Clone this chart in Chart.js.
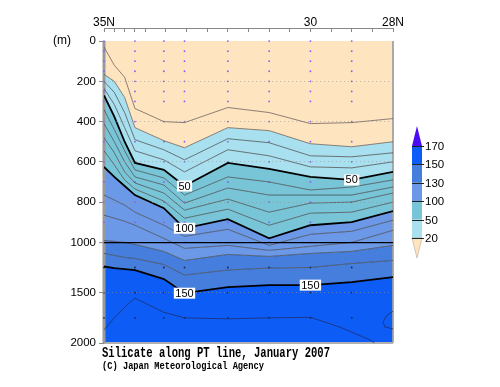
<!DOCTYPE html>
<html>
<head>
<meta charset="utf-8">
<script src="https://cdn.jsdelivr.net/npm/chart.js@4.4.0/dist/chart.umd.min.js"></script>
<style>
  html, body { margin: 0; padding: 0; background: #fff; }
</style>
</head>
<body>
<canvas id="section" width="500" height="387"></canvas>
<script>
// ── Silicate section along the PT line, January 2007 ──
// Contour depths (m), one array per contour level.

const lats = [35.0, 34.75, 34.5, 34.25, 33.55, 33.05, 32.0, 31.0, 30.0, 29.0, 28.0];

const depth10  = [30, 120, 180, 335, 400, 405, 330, 355, 410, 405, 385];
const depth20  = [165, 200, 280, 430, 495, 530, 430, 445, 510, 525, 500];
const depth30  = [200, 255, 355, 490, 540, 590, 485, 505, 570, 575, 555];
const depth40  = [235, 315, 430, 545, 590, 650, 540, 570, 625, 630, 600];
const depth50  = [270, 375, 500, 605, 640, 720, 605, 635, 675, 690, 650];
const depth60  = [340, 440, 545, 640, 680, 765, 675, 700, 740, 725, 690];
const depth70  = [410, 500, 600, 675, 715, 805, 730, 765, 765, 765, 725];
const depth80  = [480, 555, 650, 705, 755, 840, 785, 850, 805, 800, 755];
const depth90  = [545, 615, 690, 735, 795, 880, 835, 915, 855, 850, 800];
const depth100 = [625, 675, 720, 765, 830, 930, 885, 980, 915, 900, 845];
const depth110 = [765, 790, 815, 850, 915, 970, 935, 1030, 960, 945, 890];
const depth120 = [865, 880, 895, 915, 980, 1060, 1030, 1080, 1040, 1000, 940];
const depth130 = [990, 995, 1000, 1020, 1090, 1180, 1120, 1140, 1110, 1090, 1030];
const depth140 = [1110, 1130, 1150, 1160, 1220, 1325, 1275, 1255, 1250, 1210, 1180];
const depth150 = [1240, 1255, 1265, 1275, 1365, 1505, 1445, 1425, 1425, 1395, 1345];

const levels = [10, 20, 30, 40, 50, 60, 70, 80, 90, 100, 110, 120, 130, 140, 150];

// the 160 contour leaves through the bottom, plus a small tongue on the right edge
const line160Lats   = [35.0, 34.75, 34.5, 34.25, 33.55, 33.05, 32.0, 31.0, 30.0, 29.3, 28.55, 28.45];
const line160Depths = [1870, 1750, 1645, 1555, 1695, 1750, 1760, 1750, 1745, 1840, 1970, 2000];
const loop160Lats   = [28.0, 28.15, 28.24, 28.2, 28.0];
const loop160Depths = [1685, 1725, 1790, 1840, 1860];

// observation stations and sampled depths (dots)
const stationLats = [35.0, 34.25, 33.55, 33.05, 32.0, 31.0, 30.0, 29.0];
const obsDepths = [0, 50, 100, 150, 200, 250, 300, 400, 500, 600, 700, 800, 900, 1000, 1250, 1500, 1750];

// colour scale
const bandLevels = [20, 50, 100, 130, 150, 170];
const bandColors = ['#ffe4c0', '#a8e0ef', '#78c5d8', '#6b98e7', '#467edd', '#0d5cf6', '#4a0cf2'];

// contour labels
const labelLats   = [33.05, 29.0, 33.05, 33.05, 30.0];
const labelLevels = [50, 50, 100, 150, 150];

// axes
const xTickValues = [35, 34.75, 34.5, 34.25, 34, 33.5, 33, 32.5, 32, 31.5, 31, 30.5, 30, 29.5, 29, 28.5, 28];
const xTickLabels = ['35N', '', '', '', '', '', '', '', '', '', '', '', '30', '', '', '', '28N'];
const yTickValues = [0, 200, 400, 600, 800, 1000, 1500, 2000];

const BREAK_DEPTH = 1000;   // below this the axis is compressed by half

const contourDepths = [depth10, depth20, depth30, depth40, depth50, depth60, depth70, depth80,
  depth90, depth100, depth110, depth120, depth130, depth140, depth150];

function bandColor(v) {
  const i = bandLevels.findIndex(l => v < l);
  return bandColors[i < 0 ? bandColors.length - 1 : i];
}

// piecewise linear depth axis (0-1000 m full scale, 1000-2000 m half scale)
class DepthScale extends Chart.LinearScale {
  static id = 'depth';
  toUnit(v) { return v <= BREAK_DEPTH ? v : BREAK_DEPTH + (v - BREAK_DEPTH) / 2; }
  fromUnit(u) { return u <= BREAK_DEPTH ? u : BREAK_DEPTH + (u - BREAK_DEPTH) * 2; }
  getPixelForValue(value) {
    const a = this.toUnit(this.min), b = this.toUnit(this.max);
    return this.getPixelForDecimal((this.toUnit(value) - a) / (b - a));
  }
  getValueForPixel(pixel) {
    const a = this.toUnit(this.min), b = this.toUnit(this.max);
    return this.fromUnit(a + this.getDecimalForPixel(pixel) * (b - a));
  }
}
Chart.register(DepthScale);

const datasets = [];
datasets.push({
  data: lats.map(lat => ({ x: lat, y: 0 })),
  borderWidth: 0, pointRadius: 0, fill: false,
});
levels.forEach((lev, k) => {
  const heavy = lev % 50 === 0;
  datasets.push({
    data: lats.map((lat, i) => ({ x: lat, y: contourDepths[k][i] })),
    borderColor: heavy ? '#000' : (lev < 30 ? '#5a5048' : '#404040'),
    borderWidth: heavy ? 1.8 : 0.7,
    backgroundColor: bandColor(lev - 5),
    fill: '-1', pointRadius: 0, tension: 0,
  });
});
datasets.push({
  data: lats.map(lat => ({ x: lat, y: 2000 })),
  borderWidth: 0, pointRadius: 0,
  backgroundColor: bandColor(155), fill: '-1',
});
datasets.push({
  data: line160Lats.map((lat, i) => ({ x: lat, y: line160Depths[i] })),
  borderColor: '#1c2a5a', borderWidth: 0.7, pointRadius: 0, fill: false,
});
datasets.push({
  data: loop160Lats.map((lat, i) => ({ x: lat, y: loop160Depths[i] })),
  borderColor: '#1c2a5a', borderWidth: 0.7, pointRadius: 0, fill: false,
});
// station dots
datasets.push({
  data: stationLats.flatMap(lat => obsDepths.map(d => ({ x: lat, y: d }))),
  showLine: false, pointRadius: 0.9, pointBorderWidth: 0,
  pointBackgroundColor: ctx => (ctx.raw && ctx.raw.y > 1000 ? '#1e2358' : '#8a5cff'),
  clip: false,
});
// frame: left, bottom, right
datasets.push({
  data: [{ x: 35, y: 0 }, { x: 35, y: 2000 }],
  borderColor: '#9a9a9a', borderWidth: 3, pointRadius: 0, fill: false, clip: false,
});
datasets.push({
  data: [{ x: 35, y: 2000 }, { x: 28, y: 2000 }],
  borderColor: '#b0b0b0', borderWidth: 2, pointRadius: 0, fill: false, clip: false,
});
datasets.push({
  data: [{ x: 28, y: 0 }, { x: 28, y: 2000 }],
  borderColor: '#a0a0a0', borderWidth: 1, pointRadius: 0, fill: false, clip: false,
});

function fitText(ctx, text, x, y, font, width) {
  ctx.font = font;
  const w = ctx.measureText(text).width;
  ctx.save();
  ctx.translate(x, y);
  ctx.scale(width / w, 1);
  ctx.fillText(text, 0, 0);
  ctx.restore();
}

const decorations = {
  id: 'decorations',
  afterDraw(chart) {
    const { ctx } = chart;
    const xs = chart.scales.x, ys = chart.scales.y;
    ctx.save();

    // contour labels
    ctx.font = '11px "Liberation Sans", Arial, sans-serif';
    ctx.textAlign = 'center';
    ctx.textBaseline = 'middle';
    labelLats.forEach((lat, i) => {
      const lev = labelLevels[i];
      const d = contourDepths[levels.indexOf(lev)][lats.indexOf(lat)];
      const px = xs.getPixelForValue(lat), py = ys.getPixelForValue(d);
      const txt = String(lev);
      const w = ctx.measureText(txt).width + 3;
      ctx.fillStyle = '#fff';
      ctx.fillRect(px - w / 2, py - 5.5, w, 11);
      ctx.fillStyle = '#000';
      ctx.fillText(txt, px, py + 0.5);
    });

    // unit label
    ctx.font = '12px "Liberation Sans", Arial, sans-serif';
    ctx.fillText('(m)', 62, ys.getPixelForValue(0));

    // colour bar
    const cb = { left: 412, width: 10, top: 146, bottom: 238, tip: 20 };
    const segH = (cb.bottom - cb.top) / (bandLevels.length - 1);
    for (let i = 0; i < bandLevels.length - 1; i++) {
      ctx.fillStyle = bandColors[i + 1];
      ctx.fillRect(cb.left, cb.bottom - (i + 1) * segH, cb.width, segH);
    }
    ctx.fillStyle = bandColors[0];
    ctx.beginPath();
    ctx.moveTo(cb.left, cb.bottom);
    ctx.lineTo(cb.left + cb.width, cb.bottom);
    ctx.lineTo(cb.left + cb.width / 2, cb.bottom + cb.tip);
    ctx.closePath();
    ctx.fill();
    ctx.strokeStyle = '#b8a890';
    ctx.lineWidth = 0.6;
    ctx.stroke();
    ctx.fillStyle = bandColors[bandColors.length - 1];
    ctx.beginPath();
    ctx.moveTo(cb.left, cb.top);
    ctx.lineTo(cb.left + cb.width, cb.top);
    ctx.lineTo(cb.left + cb.width / 2, cb.top - cb.tip);
    ctx.closePath();
    ctx.fill();

    ctx.strokeStyle = '#222';
    ctx.lineWidth = 1;
    ctx.font = '11.5px "Liberation Sans", Arial, sans-serif';
    ctx.textAlign = 'left';
    ctx.fillStyle = '#000';
    bandLevels.forEach((lev, i) => {
      const yy = Math.round(cb.bottom - i * segH) + 0.5;
      ctx.beginPath();
      ctx.moveTo(cb.left, yy);
      ctx.lineTo(cb.left + cb.width + 2, yy);
      ctx.stroke();
      ctx.fillText(String(lev), cb.left + cb.width + 3, yy);
    });

    // caption
    ctx.textAlign = 'left';
    ctx.textBaseline = 'alphabetic';
    ctx.fillStyle = '#000';
    fitText(ctx, 'Silicate along PT line, January 2007', 102, 357,
      'bold 14px "Liberation Mono", "DejaVu Sans Mono", monospace', 228);
    fitText(ctx, '(C) Japan Meteorological Agency', 102, 369,
      'bold 11px "Liberation Mono", "DejaVu Sans Mono", monospace', 162);
    ctx.restore();
  },
};

new Chart(document.getElementById('section'), {
  type: 'line',
  data: { datasets },
  plugins: [decorations],
  options: {
    responsive: false,
    animation: false,
    devicePixelRatio: 1,
    layout: { padding: { left: 0, top: 0, right: 107, bottom: 44 } },
    plugins: {
      legend: { display: false },
      tooltip: { enabled: false },
      filler: { propagate: false, drawTime: 'beforeDatasetsDraw' },
    },
    scales: {
      x: {
        type: 'linear', position: 'top', reverse: true, min: 28, max: 35, bounds: 'data',
        afterFit: s => { s.height = 28; },
        afterBuildTicks: s => { s.ticks = xTickValues.map(v => ({ value: v })); },
        grid: { drawOnChartArea: false, tickLength: -4, color: '#888', tickColor: '#888' },
        border: { color: '#888', width: 1 },
        ticks: {
          autoSkip: false, maxRotation: 0, padding: 2, color: '#000',
          font: { family: '"Liberation Sans", Arial, sans-serif', size: 12 },
          callback: v => xTickLabels[xTickValues.indexOf(v)] || '',
        },
      },
      y: {
        type: 'depth', position: 'left', reverse: true, min: -65, max: 2000, bounds: 'data',
        afterFit: s => { s.width = 104; },
        afterBuildTicks: s => { s.ticks = yTickValues.map(v => ({ value: v })); },
        grid: {
          z: 1,
          color: ctx => {
            const v = ctx.tick ? ctx.tick.value : 0;
            if (v === 0 || v === 2000) return 'rgba(0,0,0,0)';
            if (v === BREAK_DEPTH) return '#000';
            return 'rgba(150,150,150,0.75)';
          },
          lineWidth: ctx => (ctx.tick && ctx.tick.value === BREAK_DEPTH ? 1.3 : 0.8),
          tickColor: '#888', tickLength: 5, tickWidth: 1,
        },
        border: {
          display: false,
          dash: ctx => (ctx.tick && ctx.tick.value === BREAK_DEPTH ? [] : [1, 3]),
        },
        ticks: {
          padding: 3, color: '#000',
          font: { family: '"Liberation Sans", Arial, sans-serif', size: 11.5 },
          callback: v => String(v),
        },
      },
    },
  },
});
</script>
</body>
</html>
